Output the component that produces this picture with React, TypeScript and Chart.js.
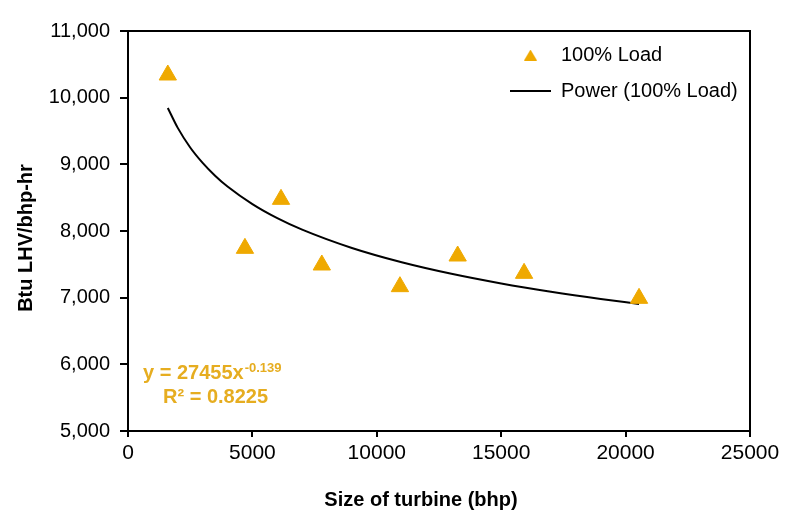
import React, { useEffect, useRef } from 'react';
import { Chart, registerables } from 'chart.js';

Chart.register(...registerables);

// ---- data ----
const turbineSize = [1600, 4700, 6150, 7790, 10930, 13250, 15920, 20540];
const heatRate = [10340, 7740, 8475, 7490, 7165, 7625, 7365, 6990];

// power trendline samples (y = 27455 x^-0.139)
const trendSize = [1600, 2000, 2500, 3000, 3500, 4000, 5000, 6000, 7000, 9000, 11000, 13000, 15000, 17000, 19000, 20540];
const trendRate = [9846, 9547, 9253, 9022, 8830, 8667, 8404, 8193, 8020, 7745, 7531, 7358, 7213, 7089, 6980, 6905];

const seriesLabel = '100% Load';
const trendLabel = 'Power (100% Load)';
const xTitle = 'Size of turbine (bhp)';
const yTitle = 'Btu LHV/bhp-hr';
const equationMain = 'y = 27455x';
const equationExp = '-0.139';
const equationR2 = 'R² = 0.8225';

const xMin = 0;
const xMax = 25000;
const xStep = 5000;
const yMin = 5000;
const yMax = 11000;
const yStep = 1000;

const FAMILY = "'Liberation Sans', Arial, sans-serif";
const GOLD = '#EFA900';
const GOLD_TEXT = '#E6AD20';

const decorPlugin = {
  id: 'decor',
  afterLayout(chart: any) {
    const lg = chart.legend;
    const a = chart.chartArea;
    if (lg && a) {
      lg.left = a.right - 256;
      lg.top = a.top - 2;
    }
  },
  afterDraw(chart: any) {
    const { ctx, chartArea: a } = chart;
    ctx.save();
    // frame
    ctx.strokeStyle = '#000';
    ctx.lineWidth = 2;
    ctx.strokeRect(a.left, a.top, a.right - a.left, a.bottom - a.top);

    // axis titles
    ctx.fillStyle = '#000';
    ctx.font = `bold 20px ${FAMILY}`;
    ctx.textAlign = 'center';
    ctx.textBaseline = 'middle';
    ctx.fillText(xTitle, (a.left + a.right) / 2 - 18, 500);
    ctx.save();
    ctx.translate(26, (a.top + a.bottom) / 2 + 7);
    ctx.rotate(-Math.PI / 2);
    ctx.fillText(yTitle, 0, 0);
    ctx.restore();

    // trendline equation
    ctx.fillStyle = GOLD_TEXT;
    ctx.textAlign = 'left';
    ctx.textBaseline = 'alphabetic';
    ctx.font = `bold 20px ${FAMILY}`;
    const ex = a.left + 15;
    const ey = a.bottom - 52;
    ctx.fillText(equationMain, ex, ey);
    const w = ctx.measureText(equationMain).width;
    ctx.font = `bold 13px ${FAMILY}`;
    ctx.fillText(equationExp, ex + w + 1, ey - 7);
    ctx.font = `bold 20px ${FAMILY}`;
    ctx.fillText(equationR2, a.left + 35, a.bottom - 28);
    ctx.restore();
  },
};

function makeTriangle(): HTMLCanvasElement {
  const c = document.createElement('canvas');
  c.width = 13;
  c.height = 11;
  const g = c.getContext('2d')!;
  g.fillStyle = GOLD;
  g.beginPath();
  g.moveTo(6.5, 0);
  g.lineTo(13, 11);
  g.lineTo(0, 11);
  g.closePath();
  g.fill();
  return c;
}

export default function App() {
  const ref = useRef<HTMLCanvasElement | null>(null);

  useEffect(() => {
    if (!ref.current) return;
    const tri = makeTriangle();
    const chart = new Chart(ref.current, {
      type: 'scatter',
      data: {
        datasets: [
          {
            label: seriesLabel,
            data: turbineSize.map((x, i) => ({ x, y: heatRate[i] })),
            pointStyle: 'triangle',
            pointRadius: 10,
            pointHoverRadius: 10,
            backgroundColor: GOLD,
            borderColor: GOLD,
            borderWidth: 1,
            showLine: false,
          },
          {
            label: trendLabel,
            data: trendSize.map((x, i) => ({ x, y: trendRate[i] })),
            showLine: true,
            pointRadius: 0,
            pointHoverRadius: 0,
            pointStyle: 'line',
            borderColor: '#000',
            backgroundColor: '#000',
            borderWidth: 2,
            cubicInterpolationMode: 'monotone',
            fill: false,
          },
        ],
      },
      options: {
        animation: false,
        responsive: false,
        maintainAspectRatio: false,
        layout: { padding: { top: 31, right: 60, bottom: 0, left: 0 } },
        plugins: {
          tooltip: { enabled: false },
          legend: {
            position: 'chartArea',
            align: 'start',
            labels: {
              usePointStyle: true,
              pointStyleWidth: 41,
              boxHeight: 10,
              padding: 16,
              color: '#000',
              font: { size: 20, family: FAMILY },
              generateLabels: (c: any) => {
                const items = (Chart.defaults as any).plugins.legend.labels.generateLabels(c);
                if (items[0]) items[0].pointStyle = tri;
                return items;
              },
            },
          },
        },
        scales: {
          x: {
            type: 'linear',
            min: xMin,
            max: xMax,
            ticks: {
              stepSize: xStep,
              color: '#000',
              padding: 4,
              maxRotation: 0,
              font: { size: 21, family: FAMILY },
              callback: (v: any) => String(v),
            },
            grid: { drawOnChartArea: false, drawTicks: true, tickLength: 6, color: '#000', lineWidth: 2 },
            border: { color: '#000', width: 2 },
            afterFit: (s: any) => {
              s.height = 93;
            },
          },
          y: {
            type: 'linear',
            min: yMin,
            max: yMax,
            ticks: {
              stepSize: yStep,
              color: '#000',
              padding: 10,
              font: { size: 20, family: FAMILY },
              callback: (v: any) => Number(v).toLocaleString('en-US'),
            },
            grid: { drawOnChartArea: false, drawTicks: true, tickLength: 8, color: '#000', lineWidth: 2 },
            border: { color: '#000', width: 2 },
            afterFit: (s: any) => {
              s.width = 128;
            },
          },
        },
      } as any,
      plugins: [decorPlugin],
    });
    return () => chart.destroy();
  }, []);

  return (
    <div style={{ position: 'absolute', left: 0, top: 0, width: 810, height: 524, background: '#fff' }}>
      <canvas ref={ref} width={810} height={524} style={{ display: 'block' }} />
    </div>
  );
}
